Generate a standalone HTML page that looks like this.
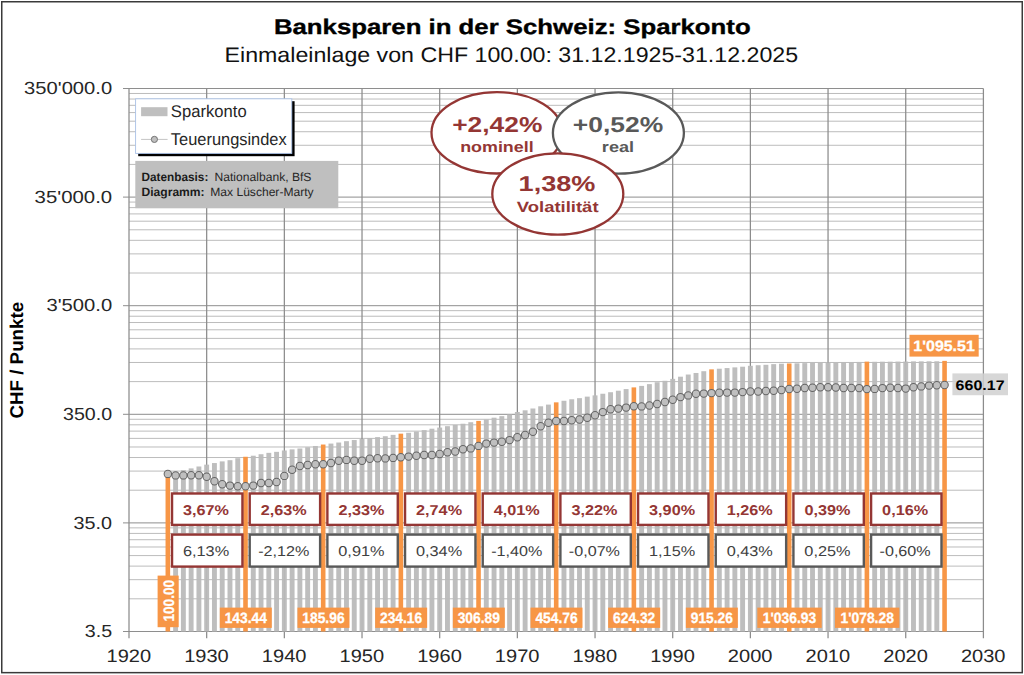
<!DOCTYPE html>
<html lang="de"><head><meta charset="utf-8"><title>Banksparen in der Schweiz: Sparkonto</title><style>html,body{margin:0;padding:0;background:#fff;}body{width:1024px;height:675px;overflow:hidden;}svg{display:block;}</style></head><body>
<svg width="1024" height="675" viewBox="0 0 1024 675" font-family='"Liberation Sans", sans-serif' text-rendering="geometricPrecision">
<defs><filter id="sh" x="-10%" y="-10%" width="130%" height="140%"><feGaussianBlur stdDeviation="0.55"/></filter></defs>
<rect x="0" y="0" width="1024" height="675" fill="#fff"/>
<rect x="1.75" y="1.75" width="1020.5" height="670.9" fill="#fff" stroke="#3a3a3a" stroke-width="1.5"/>
<g shape-rendering="auto"><line x1="129.0" x2="983.4" y1="598.81" y2="598.81" stroke="#bcbcbc" stroke-width="1"/><line x1="129.0" x2="983.4" y1="579.68" y2="579.68" stroke="#bcbcbc" stroke-width="1"/><line x1="129.0" x2="983.4" y1="566.12" y2="566.12" stroke="#bcbcbc" stroke-width="1"/><line x1="129.0" x2="983.4" y1="555.59" y2="555.59" stroke="#bcbcbc" stroke-width="1"/><line x1="129.0" x2="983.4" y1="546.99" y2="546.99" stroke="#bcbcbc" stroke-width="1"/><line x1="129.0" x2="983.4" y1="539.72" y2="539.72" stroke="#bcbcbc" stroke-width="1"/><line x1="129.0" x2="983.4" y1="533.42" y2="533.42" stroke="#bcbcbc" stroke-width="1"/><line x1="129.0" x2="983.4" y1="527.87" y2="527.87" stroke="#bcbcbc" stroke-width="1"/><line x1="129.0" x2="983.4" y1="490.21" y2="490.21" stroke="#bcbcbc" stroke-width="1"/><line x1="129.0" x2="983.4" y1="471.08" y2="471.08" stroke="#bcbcbc" stroke-width="1"/><line x1="129.0" x2="983.4" y1="457.52" y2="457.52" stroke="#bcbcbc" stroke-width="1"/><line x1="129.0" x2="983.4" y1="446.99" y2="446.99" stroke="#bcbcbc" stroke-width="1"/><line x1="129.0" x2="983.4" y1="438.39" y2="438.39" stroke="#bcbcbc" stroke-width="1"/><line x1="129.0" x2="983.4" y1="431.12" y2="431.12" stroke="#bcbcbc" stroke-width="1"/><line x1="129.0" x2="983.4" y1="424.82" y2="424.82" stroke="#bcbcbc" stroke-width="1"/><line x1="129.0" x2="983.4" y1="419.27" y2="419.27" stroke="#bcbcbc" stroke-width="1"/><line x1="129.0" x2="983.4" y1="381.61" y2="381.61" stroke="#bcbcbc" stroke-width="1"/><line x1="129.0" x2="983.4" y1="362.48" y2="362.48" stroke="#bcbcbc" stroke-width="1"/><line x1="129.0" x2="983.4" y1="348.92" y2="348.92" stroke="#bcbcbc" stroke-width="1"/><line x1="129.0" x2="983.4" y1="338.39" y2="338.39" stroke="#bcbcbc" stroke-width="1"/><line x1="129.0" x2="983.4" y1="329.79" y2="329.79" stroke="#bcbcbc" stroke-width="1"/><line x1="129.0" x2="983.4" y1="322.52" y2="322.52" stroke="#bcbcbc" stroke-width="1"/><line x1="129.0" x2="983.4" y1="316.22" y2="316.22" stroke="#bcbcbc" stroke-width="1"/><line x1="129.0" x2="983.4" y1="310.67" y2="310.67" stroke="#bcbcbc" stroke-width="1"/><line x1="129.0" x2="983.4" y1="273.01" y2="273.01" stroke="#bcbcbc" stroke-width="1"/><line x1="129.0" x2="983.4" y1="253.88" y2="253.88" stroke="#bcbcbc" stroke-width="1"/><line x1="129.0" x2="983.4" y1="240.32" y2="240.32" stroke="#bcbcbc" stroke-width="1"/><line x1="129.0" x2="983.4" y1="229.79" y2="229.79" stroke="#bcbcbc" stroke-width="1"/><line x1="129.0" x2="983.4" y1="221.19" y2="221.19" stroke="#bcbcbc" stroke-width="1"/><line x1="129.0" x2="983.4" y1="213.92" y2="213.92" stroke="#bcbcbc" stroke-width="1"/><line x1="129.0" x2="983.4" y1="207.62" y2="207.62" stroke="#bcbcbc" stroke-width="1"/><line x1="129.0" x2="983.4" y1="202.07" y2="202.07" stroke="#bcbcbc" stroke-width="1"/><line x1="129.0" x2="983.4" y1="164.41" y2="164.41" stroke="#bcbcbc" stroke-width="1"/><line x1="129.0" x2="983.4" y1="145.28" y2="145.28" stroke="#bcbcbc" stroke-width="1"/><line x1="129.0" x2="983.4" y1="131.72" y2="131.72" stroke="#bcbcbc" stroke-width="1"/><line x1="129.0" x2="983.4" y1="121.19" y2="121.19" stroke="#bcbcbc" stroke-width="1"/><line x1="129.0" x2="983.4" y1="112.59" y2="112.59" stroke="#bcbcbc" stroke-width="1"/><line x1="129.0" x2="983.4" y1="105.32" y2="105.32" stroke="#bcbcbc" stroke-width="1"/><line x1="129.0" x2="983.4" y1="99.02" y2="99.02" stroke="#bcbcbc" stroke-width="1"/><line x1="129.0" x2="983.4" y1="93.47" y2="93.47" stroke="#bcbcbc" stroke-width="1"/><line x1="123.0" x2="983.4" y1="631.50" y2="631.50" stroke="#8e8e8e" stroke-width="1"/><line x1="123.0" x2="983.4" y1="522.90" y2="522.90" stroke="#8e8e8e" stroke-width="1"/><line x1="123.0" x2="983.4" y1="414.30" y2="414.30" stroke="#8e8e8e" stroke-width="1"/><line x1="123.0" x2="983.4" y1="305.70" y2="305.70" stroke="#8e8e8e" stroke-width="1"/><line x1="123.0" x2="983.4" y1="197.10" y2="197.10" stroke="#8e8e8e" stroke-width="1"/><line x1="123.0" x2="983.4" y1="88.50" y2="88.50" stroke="#8e8e8e" stroke-width="1"/><line x1="129.00" x2="129.00" y1="88.5" y2="638.3" stroke="#8c8c8c" stroke-width="1.25"/><line x1="206.67" x2="206.67" y1="88.5" y2="638.3" stroke="#8c8c8c" stroke-width="1.25"/><line x1="284.35" x2="284.35" y1="88.5" y2="638.3" stroke="#8c8c8c" stroke-width="1.25"/><line x1="362.02" x2="362.02" y1="88.5" y2="638.3" stroke="#8c8c8c" stroke-width="1.25"/><line x1="439.69" x2="439.69" y1="88.5" y2="638.3" stroke="#8c8c8c" stroke-width="1.25"/><line x1="517.36" x2="517.36" y1="88.5" y2="638.3" stroke="#8c8c8c" stroke-width="1.25"/><line x1="595.04" x2="595.04" y1="88.5" y2="638.3" stroke="#8c8c8c" stroke-width="1.25"/><line x1="672.71" x2="672.71" y1="88.5" y2="638.3" stroke="#8c8c8c" stroke-width="1.25"/><line x1="750.38" x2="750.38" y1="88.5" y2="638.3" stroke="#8c8c8c" stroke-width="1.25"/><line x1="828.05" x2="828.05" y1="88.5" y2="638.3" stroke="#8c8c8c" stroke-width="1.25"/><line x1="905.73" x2="905.73" y1="88.5" y2="638.3" stroke="#8c8c8c" stroke-width="1.25"/><line x1="983.40" x2="983.40" y1="88.5" y2="638.3" stroke="#8c8c8c" stroke-width="1.25"/></g>
<g fill="#bbbbbb" fill-opacity="0.95"><rect x="173.15" y="471.59" width="4.9" height="159.91"/><rect x="180.92" y="470.09" width="4.9" height="161.41"/><rect x="188.69" y="468.39" width="4.9" height="163.11"/><rect x="196.46" y="466.49" width="4.9" height="165.01"/><rect x="204.22" y="464.64" width="4.9" height="166.86"/><rect x="211.99" y="463.04" width="4.9" height="168.46"/><rect x="219.76" y="461.39" width="4.9" height="170.11"/><rect x="227.52" y="460.19" width="4.9" height="171.31"/><rect x="235.29" y="458.19" width="4.9" height="173.31"/><rect x="250.83" y="455.72" width="4.9" height="175.78"/><rect x="258.59" y="454.21" width="4.9" height="177.29"/><rect x="266.36" y="452.85" width="4.9" height="178.65"/><rect x="274.13" y="451.84" width="4.9" height="179.66"/><rect x="281.90" y="450.47" width="4.9" height="181.03"/><rect x="289.66" y="449.36" width="4.9" height="182.14"/><rect x="297.43" y="448.50" width="4.9" height="183.00"/><rect x="305.20" y="447.24" width="4.9" height="184.26"/><rect x="312.96" y="445.98" width="4.9" height="185.52"/><rect x="328.50" y="443.57" width="4.9" height="187.93"/><rect x="336.27" y="442.53" width="4.9" height="188.97"/><rect x="344.03" y="441.18" width="4.9" height="190.32"/><rect x="351.80" y="440.04" width="4.9" height="191.46"/><rect x="359.57" y="439.00" width="4.9" height="192.50"/><rect x="367.34" y="438.05" width="4.9" height="193.45"/><rect x="375.10" y="437.11" width="4.9" height="194.39"/><rect x="382.87" y="436.22" width="4.9" height="195.28"/><rect x="390.64" y="434.87" width="4.9" height="196.63"/><rect x="406.17" y="432.79" width="4.9" height="198.71"/><rect x="413.94" y="431.52" width="4.9" height="199.98"/><rect x="421.71" y="430.12" width="4.9" height="201.38"/><rect x="429.47" y="428.72" width="4.9" height="202.78"/><rect x="437.24" y="427.57" width="4.9" height="203.93"/><rect x="445.01" y="426.17" width="4.9" height="205.33"/><rect x="452.78" y="424.90" width="4.9" height="206.60"/><rect x="460.54" y="423.75" width="4.9" height="207.75"/><rect x="468.31" y="422.23" width="4.9" height="209.27"/><rect x="483.84" y="419.52" width="4.9" height="211.98"/><rect x="491.61" y="417.70" width="4.9" height="213.80"/><rect x="499.38" y="416.14" width="4.9" height="215.36"/><rect x="507.15" y="414.45" width="4.9" height="217.05"/><rect x="514.91" y="412.00" width="4.9" height="219.50"/><rect x="522.68" y="410.31" width="4.9" height="221.19"/><rect x="530.45" y="408.49" width="4.9" height="223.01"/><rect x="538.22" y="406.30" width="4.9" height="225.20"/><rect x="545.98" y="404.61" width="4.9" height="226.89"/><rect x="561.52" y="400.77" width="4.9" height="230.73"/><rect x="569.28" y="399.26" width="4.9" height="232.24"/><rect x="577.05" y="398.14" width="4.9" height="233.36"/><rect x="584.82" y="396.63" width="4.9" height="234.87"/><rect x="592.59" y="395.37" width="4.9" height="236.13"/><rect x="600.35" y="393.74" width="4.9" height="237.76"/><rect x="608.12" y="392.23" width="4.9" height="239.27"/><rect x="615.89" y="390.72" width="4.9" height="240.78"/><rect x="623.66" y="389.08" width="4.9" height="242.42"/><rect x="639.19" y="385.91" width="4.9" height="245.59"/><rect x="646.96" y="384.12" width="4.9" height="247.38"/><rect x="654.72" y="382.20" width="4.9" height="249.30"/><rect x="662.49" y="380.79" width="4.9" height="250.71"/><rect x="670.26" y="378.87" width="4.9" height="252.63"/><rect x="678.03" y="376.70" width="4.9" height="254.80"/><rect x="685.79" y="374.53" width="4.9" height="256.97"/><rect x="693.56" y="372.99" width="4.9" height="258.51"/><rect x="701.33" y="371.20" width="4.9" height="260.30"/><rect x="716.86" y="368.73" width="4.9" height="262.77"/><rect x="724.63" y="368.06" width="4.9" height="263.44"/><rect x="732.40" y="367.38" width="4.9" height="264.12"/><rect x="740.16" y="366.71" width="4.9" height="264.79"/><rect x="747.93" y="365.78" width="4.9" height="265.72"/><rect x="755.70" y="365.23" width="4.9" height="266.27"/><rect x="763.47" y="364.81" width="4.9" height="266.69"/><rect x="771.23" y="364.13" width="4.9" height="267.37"/><rect x="779.00" y="363.71" width="4.9" height="267.79"/><rect x="794.54" y="363.33" width="4.9" height="268.17"/><rect x="802.30" y="363.11" width="4.9" height="268.39"/><rect x="810.07" y="362.89" width="4.9" height="268.61"/><rect x="817.84" y="362.54" width="4.9" height="268.96"/><rect x="825.60" y="362.45" width="4.9" height="269.05"/><rect x="833.37" y="362.36" width="4.9" height="269.14"/><rect x="841.14" y="362.20" width="4.9" height="269.30"/><rect x="848.91" y="362.11" width="4.9" height="269.39"/><rect x="856.67" y="361.95" width="4.9" height="269.55"/><rect x="872.21" y="361.82" width="4.9" height="269.68"/><rect x="879.98" y="361.72" width="4.9" height="269.78"/><rect x="887.74" y="361.69" width="4.9" height="269.81"/><rect x="895.51" y="361.59" width="4.9" height="269.91"/><rect x="903.28" y="361.55" width="4.9" height="269.95"/><rect x="911.04" y="361.38" width="4.9" height="270.12"/><rect x="918.81" y="361.35" width="4.9" height="270.15"/><rect x="926.58" y="361.31" width="4.9" height="270.19"/><rect x="934.35" y="361.27" width="4.9" height="270.23"/></g>
<g fill="#F79646"><rect x="165.54" y="473.79" width="4.6" height="157.71"/><rect x="243.21" y="456.77" width="4.6" height="174.73"/><rect x="320.88" y="444.53" width="4.6" height="186.97"/><rect x="398.55" y="433.66" width="4.6" height="197.84"/><rect x="476.23" y="420.90" width="4.6" height="210.60"/><rect x="553.90" y="402.35" width="4.6" height="229.15"/><rect x="631.57" y="387.40" width="4.6" height="244.10"/><rect x="709.25" y="369.36" width="4.6" height="262.14"/><rect x="786.92" y="363.48" width="4.6" height="268.02"/><rect x="864.59" y="361.63" width="4.6" height="269.87"/><rect x="942.26" y="360.88" width="4.6" height="270.62"/></g>
<polyline points="167.84,473.90 175.60,475.40 183.37,475.40 191.14,475.20 198.91,475.20 206.67,476.70 214.44,481.30 222.21,484.30 229.97,485.60 237.74,486.30 245.51,486.30 253.28,485.60 261.04,483.00 268.81,483.00 276.58,482.00 284.35,475.90 292.11,469.80 299.88,466.00 307.65,465.00 315.41,464.20 323.18,464.20 330.95,463.00 338.72,460.70 346.48,459.90 354.25,460.70 362.02,460.70 369.79,458.70 377.55,458.20 385.32,458.40 393.09,457.90 400.85,457.30 408.62,456.60 416.39,455.80 424.16,455.00 431.92,455.00 439.69,454.00 447.46,452.20 455.23,451.50 462.99,449.20 470.76,448.40 478.53,445.90 486.29,443.60 494.06,442.60 501.83,441.80 509.60,440.10 517.36,437.30 525.13,435.00 532.90,431.70 540.67,426.30 548.43,422.80 556.20,421.00 563.97,421.00 571.73,420.20 579.50,419.50 587.27,417.70 595.04,415.20 602.80,412.10 610.57,409.30 618.34,408.60 626.11,407.60 633.87,406.30 641.64,406.40 649.41,405.50 657.17,404.00 664.94,402.00 672.71,399.70 680.48,397.10 688.24,395.40 696.01,393.80 703.78,393.60 711.55,393.10 719.31,392.80 727.08,392.60 734.85,392.60 742.61,392.10 750.38,391.50 758.15,391.50 765.92,391.00 773.68,390.80 781.45,390.00 789.22,389.00 796.99,388.80 804.75,388.00 812.52,387.70 820.29,387.20 828.05,387.20 835.82,387.50 843.59,388.00 851.36,388.00 859.12,388.10 866.89,389.10 874.66,388.90 882.43,388.10 890.19,387.80 897.96,388.00 905.73,388.60 913.49,387.20 921.26,386.40 929.03,385.60 936.80,385.30 944.56,385.00" fill="none" stroke="#bdbdbd" stroke-width="1"/>
<g fill="#bfbfbf" stroke="#666" stroke-width="1.05"><circle cx="167.84" cy="473.90" r="3.7"/><circle cx="175.60" cy="475.40" r="3.7"/><circle cx="183.37" cy="475.40" r="3.7"/><circle cx="191.14" cy="475.20" r="3.7"/><circle cx="198.91" cy="475.20" r="3.7"/><circle cx="206.67" cy="476.70" r="3.7"/><circle cx="214.44" cy="481.30" r="3.7"/><circle cx="222.21" cy="484.30" r="3.7"/><circle cx="229.97" cy="485.60" r="3.7"/><circle cx="237.74" cy="486.30" r="3.7"/><circle cx="245.51" cy="486.30" r="3.7"/><circle cx="253.28" cy="485.60" r="3.7"/><circle cx="261.04" cy="483.00" r="3.7"/><circle cx="268.81" cy="483.00" r="3.7"/><circle cx="276.58" cy="482.00" r="3.7"/><circle cx="284.35" cy="475.90" r="3.7"/><circle cx="292.11" cy="469.80" r="3.7"/><circle cx="299.88" cy="466.00" r="3.7"/><circle cx="307.65" cy="465.00" r="3.7"/><circle cx="315.41" cy="464.20" r="3.7"/><circle cx="323.18" cy="464.20" r="3.7"/><circle cx="330.95" cy="463.00" r="3.7"/><circle cx="338.72" cy="460.70" r="3.7"/><circle cx="346.48" cy="459.90" r="3.7"/><circle cx="354.25" cy="460.70" r="3.7"/><circle cx="362.02" cy="460.70" r="3.7"/><circle cx="369.79" cy="458.70" r="3.7"/><circle cx="377.55" cy="458.20" r="3.7"/><circle cx="385.32" cy="458.40" r="3.7"/><circle cx="393.09" cy="457.90" r="3.7"/><circle cx="400.85" cy="457.30" r="3.7"/><circle cx="408.62" cy="456.60" r="3.7"/><circle cx="416.39" cy="455.80" r="3.7"/><circle cx="424.16" cy="455.00" r="3.7"/><circle cx="431.92" cy="455.00" r="3.7"/><circle cx="439.69" cy="454.00" r="3.7"/><circle cx="447.46" cy="452.20" r="3.7"/><circle cx="455.23" cy="451.50" r="3.7"/><circle cx="462.99" cy="449.20" r="3.7"/><circle cx="470.76" cy="448.40" r="3.7"/><circle cx="478.53" cy="445.90" r="3.7"/><circle cx="486.29" cy="443.60" r="3.7"/><circle cx="494.06" cy="442.60" r="3.7"/><circle cx="501.83" cy="441.80" r="3.7"/><circle cx="509.60" cy="440.10" r="3.7"/><circle cx="517.36" cy="437.30" r="3.7"/><circle cx="525.13" cy="435.00" r="3.7"/><circle cx="532.90" cy="431.70" r="3.7"/><circle cx="540.67" cy="426.30" r="3.7"/><circle cx="548.43" cy="422.80" r="3.7"/><circle cx="556.20" cy="421.00" r="3.7"/><circle cx="563.97" cy="421.00" r="3.7"/><circle cx="571.73" cy="420.20" r="3.7"/><circle cx="579.50" cy="419.50" r="3.7"/><circle cx="587.27" cy="417.70" r="3.7"/><circle cx="595.04" cy="415.20" r="3.7"/><circle cx="602.80" cy="412.10" r="3.7"/><circle cx="610.57" cy="409.30" r="3.7"/><circle cx="618.34" cy="408.60" r="3.7"/><circle cx="626.11" cy="407.60" r="3.7"/><circle cx="633.87" cy="406.30" r="3.7"/><circle cx="641.64" cy="406.40" r="3.7"/><circle cx="649.41" cy="405.50" r="3.7"/><circle cx="657.17" cy="404.00" r="3.7"/><circle cx="664.94" cy="402.00" r="3.7"/><circle cx="672.71" cy="399.70" r="3.7"/><circle cx="680.48" cy="397.10" r="3.7"/><circle cx="688.24" cy="395.40" r="3.7"/><circle cx="696.01" cy="393.80" r="3.7"/><circle cx="703.78" cy="393.60" r="3.7"/><circle cx="711.55" cy="393.10" r="3.7"/><circle cx="719.31" cy="392.80" r="3.7"/><circle cx="727.08" cy="392.60" r="3.7"/><circle cx="734.85" cy="392.60" r="3.7"/><circle cx="742.61" cy="392.10" r="3.7"/><circle cx="750.38" cy="391.50" r="3.7"/><circle cx="758.15" cy="391.50" r="3.7"/><circle cx="765.92" cy="391.00" r="3.7"/><circle cx="773.68" cy="390.80" r="3.7"/><circle cx="781.45" cy="390.00" r="3.7"/><circle cx="789.22" cy="389.00" r="3.7"/><circle cx="796.99" cy="388.80" r="3.7"/><circle cx="804.75" cy="388.00" r="3.7"/><circle cx="812.52" cy="387.70" r="3.7"/><circle cx="820.29" cy="387.20" r="3.7"/><circle cx="828.05" cy="387.20" r="3.7"/><circle cx="835.82" cy="387.50" r="3.7"/><circle cx="843.59" cy="388.00" r="3.7"/><circle cx="851.36" cy="388.00" r="3.7"/><circle cx="859.12" cy="388.10" r="3.7"/><circle cx="866.89" cy="389.10" r="3.7"/><circle cx="874.66" cy="388.90" r="3.7"/><circle cx="882.43" cy="388.10" r="3.7"/><circle cx="890.19" cy="387.80" r="3.7"/><circle cx="897.96" cy="388.00" r="3.7"/><circle cx="905.73" cy="388.60" r="3.7"/><circle cx="913.49" cy="387.20" r="3.7"/><circle cx="921.26" cy="386.40" r="3.7"/><circle cx="929.03" cy="385.60" r="3.7"/><circle cx="936.80" cy="385.30" r="3.7"/><circle cx="944.56" cy="385.00" r="3.7"/></g>
<text x="273.95" y="34.40" font-size="21" font-weight="bold" fill="#000" text-anchor="start" textLength="476.7" lengthAdjust="spacingAndGlyphs" stroke="#000" stroke-width="0.35">Banksparen in der Schweiz: Sparkonto</text>
<text x="224.54" y="61.60" font-size="21" font-weight="normal" fill="#111" text-anchor="start" textLength="573.6" lengthAdjust="spacingAndGlyphs">Einmaleinlage von CHF 100.00: 31.12.1925-31.12.2025</text>
<text x="24.14" y="94.10" font-size="17.5" font-weight="normal" fill="#262626" text-anchor="start" textLength="88.0" lengthAdjust="spacingAndGlyphs">350'000.0</text>
<text x="34.64" y="202.70" font-size="17.5" font-weight="normal" fill="#262626" text-anchor="start" textLength="77.5" lengthAdjust="spacingAndGlyphs">35'000.0</text>
<text x="46.44" y="311.30" font-size="17.5" font-weight="normal" fill="#262626" text-anchor="start" textLength="65.7" lengthAdjust="spacingAndGlyphs">3'500.0</text>
<text x="63.04" y="419.90" font-size="17.5" font-weight="normal" fill="#262626" text-anchor="start" textLength="49.1" lengthAdjust="spacingAndGlyphs">350.0</text>
<text x="73.64" y="528.50" font-size="17.5" font-weight="normal" fill="#262626" text-anchor="start" textLength="38.5" lengthAdjust="spacingAndGlyphs">35.0</text>
<text x="84.84" y="637.10" font-size="17.5" font-weight="normal" fill="#262626" text-anchor="start" textLength="27.3" lengthAdjust="spacingAndGlyphs">3.5</text>
<text x="106.51" y="662.20" font-size="18" font-weight="normal" fill="#262626" text-anchor="start" textLength="44.6" lengthAdjust="spacingAndGlyphs">1920</text>
<text x="184.18" y="662.20" font-size="18" font-weight="normal" fill="#262626" text-anchor="start" textLength="44.6" lengthAdjust="spacingAndGlyphs">1930</text>
<text x="261.86" y="662.20" font-size="18" font-weight="normal" fill="#262626" text-anchor="start" textLength="44.6" lengthAdjust="spacingAndGlyphs">1940</text>
<text x="339.53" y="662.20" font-size="18" font-weight="normal" fill="#262626" text-anchor="start" textLength="44.6" lengthAdjust="spacingAndGlyphs">1950</text>
<text x="417.20" y="662.20" font-size="18" font-weight="normal" fill="#262626" text-anchor="start" textLength="44.6" lengthAdjust="spacingAndGlyphs">1960</text>
<text x="494.87" y="662.20" font-size="18" font-weight="normal" fill="#262626" text-anchor="start" textLength="44.6" lengthAdjust="spacingAndGlyphs">1970</text>
<text x="572.55" y="662.20" font-size="18" font-weight="normal" fill="#262626" text-anchor="start" textLength="44.6" lengthAdjust="spacingAndGlyphs">1980</text>
<text x="650.22" y="662.20" font-size="18" font-weight="normal" fill="#262626" text-anchor="start" textLength="44.6" lengthAdjust="spacingAndGlyphs">1990</text>
<text x="727.89" y="662.20" font-size="18" font-weight="normal" fill="#262626" text-anchor="start" textLength="44.6" lengthAdjust="spacingAndGlyphs">2000</text>
<text x="805.56" y="662.20" font-size="18" font-weight="normal" fill="#262626" text-anchor="start" textLength="44.6" lengthAdjust="spacingAndGlyphs">2010</text>
<text x="883.24" y="662.20" font-size="18" font-weight="normal" fill="#262626" text-anchor="start" textLength="44.6" lengthAdjust="spacingAndGlyphs">2020</text>
<text x="960.91" y="662.20" font-size="18" font-weight="normal" fill="#262626" text-anchor="start" textLength="44.6" lengthAdjust="spacingAndGlyphs">2030</text>
<text transform="translate(22.5,418.6) rotate(-90)" font-size="18.5" font-weight="bold" fill="#000" textLength="116.8" lengthAdjust="spacingAndGlyphs">CHF / Punkte</text>
<rect x="138.2" y="101.2" width="156.4" height="55" fill="#000" filter="url(#sh)"/>
<rect x="135.6" y="98.8" width="156.2" height="54.6" fill="#fff" stroke="#a9c0e6" stroke-width="0.9"/>
<rect x="141.1" y="107.2" width="26.4" height="9" fill="#BFBFBF"/>
<text x="170.87" y="116.90" font-size="17" font-weight="normal" fill="#262626" text-anchor="start" textLength="75.8" lengthAdjust="spacingAndGlyphs">Sparkonto</text>
<line x1="141.1" x2="167.6" y1="139.4" y2="139.4" stroke="#c4c4c4" stroke-width="1"/>
<circle cx="154.4" cy="139.4" r="3.1" fill="#bfbfbf" stroke="#6b6b6b" stroke-width="0.9"/>
<text x="170.87" y="144.80" font-size="17" font-weight="normal" fill="#262626" text-anchor="start" textLength="115.8" lengthAdjust="spacingAndGlyphs">Teuerungsindex</text>
<rect x="135.3" y="160.9" width="203" height="47.3" fill="#BFBFBF"/>
<text x="141.54" y="181.30" font-size="12" font-weight="bold" fill="#1a1a1a" text-anchor="start" textLength="66.8" lengthAdjust="spacingAndGlyphs">Datenbasis:</text>
<text x="214.54" y="181.30" font-size="12" font-weight="normal" fill="#262626" text-anchor="start" textLength="96.9" lengthAdjust="spacingAndGlyphs">Nationalbank, BfS</text>
<text x="141.54" y="195.90" font-size="12" font-weight="bold" fill="#1a1a1a" text-anchor="start" textLength="63.1" lengthAdjust="spacingAndGlyphs">Diagramm:</text>
<text x="210.24" y="195.90" font-size="12" font-weight="normal" fill="#262626" text-anchor="start" textLength="103.4" lengthAdjust="spacingAndGlyphs">Max Lüscher-Marty</text>
<ellipse cx="497.0" cy="132.8" rx="65.5" ry="40.7" fill="#fff" stroke="#943634" stroke-width="2.3"/>
<text x="452.22" y="131.50" font-size="21.5" font-weight="bold" fill="#943634" text-anchor="start" textLength="90.1" lengthAdjust="spacingAndGlyphs">+2,42%</text>
<text x="460.18" y="152.00" font-size="15" font-weight="bold" fill="#943634" text-anchor="start" textLength="73.5" lengthAdjust="spacingAndGlyphs">nominell</text>
<ellipse cx="618.4" cy="133.0" rx="65.5" ry="40.7" fill="#fff" stroke="#595959" stroke-width="2.3"/>
<text x="572.82" y="131.50" font-size="21.5" font-weight="bold" fill="#595959" text-anchor="start" textLength="90.4" lengthAdjust="spacingAndGlyphs">+0,52%</text>
<text x="601.88" y="152.00" font-size="15" font-weight="bold" fill="#595959" text-anchor="start" textLength="32.2" lengthAdjust="spacingAndGlyphs">real</text>
<ellipse cx="557.8" cy="194.0" rx="65.5" ry="40.7" fill="#fff" stroke="#943634" stroke-width="2.3"/>
<text x="518.62" y="191.10" font-size="21.5" font-weight="bold" fill="#943634" text-anchor="start" textLength="76.8" lengthAdjust="spacingAndGlyphs">1,38%</text>
<text x="516.77" y="212.20" font-size="15" font-weight="bold" fill="#943634" text-anchor="start" textLength="81.8" lengthAdjust="spacingAndGlyphs">Volatilität</text>
<rect x="172.04" y="493.5" width="70.4" height="31.4" fill="#fff" stroke="#943634" stroke-width="2.4"/>
<text x="183.06" y="514.70" font-size="14.2" font-weight="bold" fill="#943634" text-anchor="start" textLength="46.0" lengthAdjust="spacingAndGlyphs">3,67%</text>
<rect x="172.04" y="534.6" width="70.4" height="32.0" fill="#fff" stroke="#943634" stroke-width="2.4"/>
<text x="182.96" y="556.20" font-size="14.2" font-weight="normal" fill="#404040" text-anchor="start" textLength="46.2" lengthAdjust="spacingAndGlyphs">6,13%</text>
<rect x="249.71" y="493.5" width="70.4" height="31.4" fill="#fff" stroke="#943634" stroke-width="2.4"/>
<text x="260.73" y="514.70" font-size="14.2" font-weight="bold" fill="#943634" text-anchor="start" textLength="46.0" lengthAdjust="spacingAndGlyphs">2,63%</text>
<rect x="249.71" y="534.6" width="70.4" height="32.0" fill="#fff" stroke="#595959" stroke-width="2.4"/>
<text x="258.18" y="556.20" font-size="14.2" font-weight="normal" fill="#404040" text-anchor="start" textLength="51.1" lengthAdjust="spacingAndGlyphs">-2,12%</text>
<rect x="327.38" y="493.5" width="70.4" height="31.4" fill="#fff" stroke="#943634" stroke-width="2.4"/>
<text x="338.40" y="514.70" font-size="14.2" font-weight="bold" fill="#943634" text-anchor="start" textLength="46.0" lengthAdjust="spacingAndGlyphs">2,33%</text>
<rect x="327.38" y="534.6" width="70.4" height="32.0" fill="#fff" stroke="#595959" stroke-width="2.4"/>
<text x="338.30" y="556.20" font-size="14.2" font-weight="normal" fill="#404040" text-anchor="start" textLength="46.2" lengthAdjust="spacingAndGlyphs">0,91%</text>
<rect x="405.05" y="493.5" width="70.4" height="31.4" fill="#fff" stroke="#943634" stroke-width="2.4"/>
<text x="416.07" y="514.70" font-size="14.2" font-weight="bold" fill="#943634" text-anchor="start" textLength="46.0" lengthAdjust="spacingAndGlyphs">2,74%</text>
<rect x="405.05" y="534.6" width="70.4" height="32.0" fill="#fff" stroke="#595959" stroke-width="2.4"/>
<text x="415.97" y="556.20" font-size="14.2" font-weight="normal" fill="#404040" text-anchor="start" textLength="46.2" lengthAdjust="spacingAndGlyphs">0,34%</text>
<rect x="482.73" y="493.5" width="70.4" height="31.4" fill="#fff" stroke="#943634" stroke-width="2.4"/>
<text x="493.75" y="514.70" font-size="14.2" font-weight="bold" fill="#943634" text-anchor="start" textLength="46.0" lengthAdjust="spacingAndGlyphs">4,01%</text>
<rect x="482.73" y="534.6" width="70.4" height="32.0" fill="#fff" stroke="#595959" stroke-width="2.4"/>
<text x="491.20" y="556.20" font-size="14.2" font-weight="normal" fill="#404040" text-anchor="start" textLength="51.1" lengthAdjust="spacingAndGlyphs">-1,40%</text>
<rect x="560.40" y="493.5" width="70.4" height="31.4" fill="#fff" stroke="#943634" stroke-width="2.4"/>
<text x="571.42" y="514.70" font-size="14.2" font-weight="bold" fill="#943634" text-anchor="start" textLength="46.0" lengthAdjust="spacingAndGlyphs">3,22%</text>
<rect x="560.40" y="534.6" width="70.4" height="32.0" fill="#fff" stroke="#595959" stroke-width="2.4"/>
<text x="568.87" y="556.20" font-size="14.2" font-weight="normal" fill="#404040" text-anchor="start" textLength="51.1" lengthAdjust="spacingAndGlyphs">-0,07%</text>
<rect x="638.07" y="493.5" width="70.4" height="31.4" fill="#fff" stroke="#943634" stroke-width="2.4"/>
<text x="649.09" y="514.70" font-size="14.2" font-weight="bold" fill="#943634" text-anchor="start" textLength="46.0" lengthAdjust="spacingAndGlyphs">3,90%</text>
<rect x="638.07" y="534.6" width="70.4" height="32.0" fill="#fff" stroke="#595959" stroke-width="2.4"/>
<text x="648.99" y="556.20" font-size="14.2" font-weight="normal" fill="#404040" text-anchor="start" textLength="46.2" lengthAdjust="spacingAndGlyphs">1,15%</text>
<rect x="715.75" y="493.5" width="70.4" height="31.4" fill="#fff" stroke="#943634" stroke-width="2.4"/>
<text x="726.76" y="514.70" font-size="14.2" font-weight="bold" fill="#943634" text-anchor="start" textLength="46.0" lengthAdjust="spacingAndGlyphs">1,26%</text>
<rect x="715.75" y="534.6" width="70.4" height="32.0" fill="#fff" stroke="#595959" stroke-width="2.4"/>
<text x="726.66" y="556.20" font-size="14.2" font-weight="normal" fill="#404040" text-anchor="start" textLength="46.2" lengthAdjust="spacingAndGlyphs">0,43%</text>
<rect x="793.42" y="493.5" width="70.4" height="31.4" fill="#fff" stroke="#943634" stroke-width="2.4"/>
<text x="804.44" y="514.70" font-size="14.2" font-weight="bold" fill="#943634" text-anchor="start" textLength="46.0" lengthAdjust="spacingAndGlyphs">0,39%</text>
<rect x="793.42" y="534.6" width="70.4" height="32.0" fill="#fff" stroke="#595959" stroke-width="2.4"/>
<text x="804.34" y="556.20" font-size="14.2" font-weight="normal" fill="#404040" text-anchor="start" textLength="46.2" lengthAdjust="spacingAndGlyphs">0,25%</text>
<rect x="871.09" y="493.5" width="70.4" height="31.4" fill="#fff" stroke="#943634" stroke-width="2.4"/>
<text x="882.11" y="514.70" font-size="14.2" font-weight="bold" fill="#943634" text-anchor="start" textLength="46.0" lengthAdjust="spacingAndGlyphs">0,16%</text>
<rect x="871.09" y="534.6" width="70.4" height="32.0" fill="#fff" stroke="#595959" stroke-width="2.4"/>
<text x="879.56" y="556.20" font-size="14.2" font-weight="normal" fill="#404040" text-anchor="start" textLength="51.1" lengthAdjust="spacingAndGlyphs">-0,60%</text>
<rect x="157.6" y="575.6" width="21.1" height="51.6" fill="#F79646"/>
<text transform="translate(173.5,621.6) rotate(-90)" font-size="15" font-weight="bold" fill="#fff" stroke="#fff" stroke-width="0.3" textLength="41.7" lengthAdjust="spacingAndGlyphs">100.00</text>
<rect x="219.81" y="607.6" width="52.0" height="20.3" fill="#F79646"/>
<text x="224.68" y="622.70" font-size="15" font-weight="bold" fill="#fff" text-anchor="start" textLength="42.2" lengthAdjust="spacingAndGlyphs" stroke="#fff" stroke-width="0.3">143.44</text>
<rect x="297.48" y="607.6" width="52.0" height="20.3" fill="#F79646"/>
<text x="302.36" y="622.70" font-size="15" font-weight="bold" fill="#fff" text-anchor="start" textLength="42.2" lengthAdjust="spacingAndGlyphs" stroke="#fff" stroke-width="0.3">185.96</text>
<rect x="375.15" y="607.6" width="52.0" height="20.3" fill="#F79646"/>
<text x="380.03" y="622.70" font-size="15" font-weight="bold" fill="#fff" text-anchor="start" textLength="42.2" lengthAdjust="spacingAndGlyphs" stroke="#fff" stroke-width="0.3">234.16</text>
<rect x="452.83" y="607.6" width="52.0" height="20.3" fill="#F79646"/>
<text x="457.70" y="622.70" font-size="15" font-weight="bold" fill="#fff" text-anchor="start" textLength="42.2" lengthAdjust="spacingAndGlyphs" stroke="#fff" stroke-width="0.3">306.89</text>
<rect x="530.50" y="607.6" width="52.0" height="20.3" fill="#F79646"/>
<text x="535.38" y="622.70" font-size="15" font-weight="bold" fill="#fff" text-anchor="start" textLength="42.2" lengthAdjust="spacingAndGlyphs" stroke="#fff" stroke-width="0.3">454.76</text>
<rect x="608.17" y="607.6" width="52.0" height="20.3" fill="#F79646"/>
<text x="613.05" y="622.70" font-size="15" font-weight="bold" fill="#fff" text-anchor="start" textLength="42.2" lengthAdjust="spacingAndGlyphs" stroke="#fff" stroke-width="0.3">624.32</text>
<rect x="685.85" y="607.6" width="52.0" height="20.3" fill="#F79646"/>
<text x="690.72" y="622.70" font-size="15" font-weight="bold" fill="#fff" text-anchor="start" textLength="42.2" lengthAdjust="spacingAndGlyphs" stroke="#fff" stroke-width="0.3">915.26</text>
<rect x="757.32" y="607.6" width="64.4" height="20.3" fill="#F79646"/>
<text x="762.74" y="622.70" font-size="15" font-weight="bold" fill="#fff" text-anchor="start" textLength="53.5" lengthAdjust="spacingAndGlyphs" stroke="#fff" stroke-width="0.3">1'036.93</text>
<rect x="834.99" y="607.6" width="64.4" height="20.3" fill="#F79646"/>
<text x="840.42" y="622.70" font-size="15" font-weight="bold" fill="#fff" text-anchor="start" textLength="53.5" lengthAdjust="spacingAndGlyphs" stroke="#fff" stroke-width="0.3">1'078.28</text>
<rect x="909.5" y="334.8" width="69.2" height="21.8" fill="#F79646"/>
<text x="913.38" y="350.80" font-size="15" font-weight="bold" fill="#fff" text-anchor="start" textLength="61.4" lengthAdjust="spacingAndGlyphs" stroke="#fff" stroke-width="0.3">1'095.51</text>
<rect x="952.4" y="373.4" width="55.6" height="21.8" fill="#d0d0d0" fill-opacity="0.85"/>
<text x="955.63" y="390.30" font-size="14" font-weight="bold" fill="#000" text-anchor="start" textLength="48.9" lengthAdjust="spacingAndGlyphs">660.17</text>
</svg>
</body></html>
